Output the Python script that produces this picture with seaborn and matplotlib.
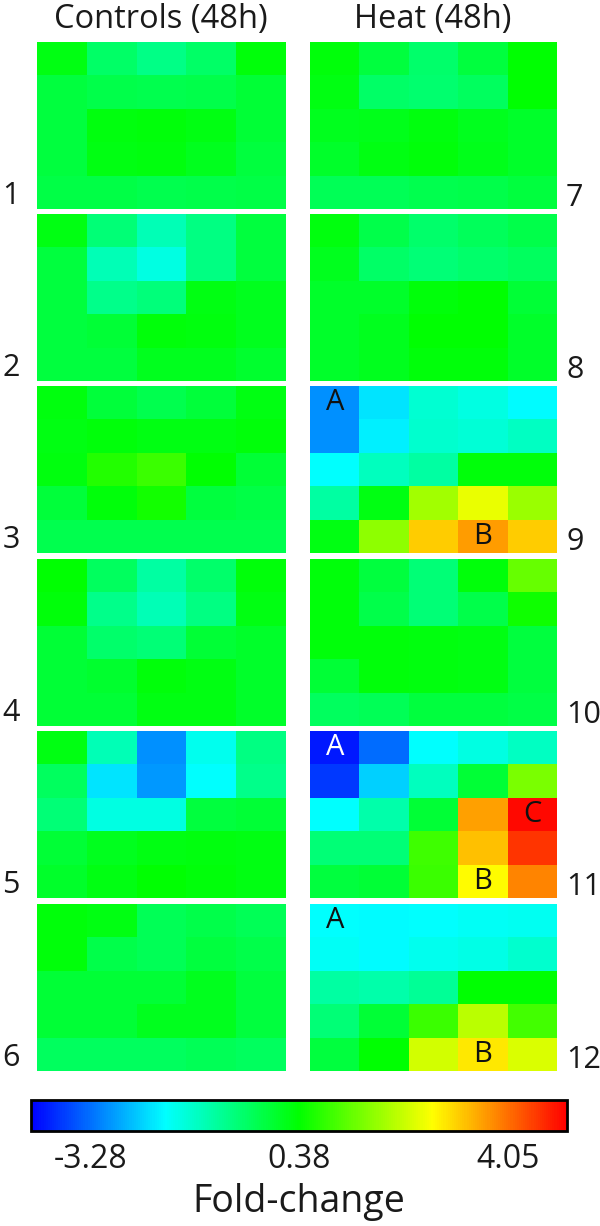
import numpy as np
import pandas as pd
import matplotlib
matplotlib.use("Agg")
import matplotlib.pyplot as plt
import seaborn as sns
from matplotlib.colors import LinearSegmentedColormap

# ---------------- data ----------------
column_titles = ["Controls (48h)", "Heat (48h)"]
panel_labels_left = ["1", "2", "3", "4", "5", "6"]
panel_labels_right = ["7", "8", "9", "10", "11", "12"]

cbar_ticks = [-3.28, 0.38, 4.05]
cbar_ticklabels = ["-3.28", "0.38", "4.05"]
cbar_title = "Fold-change"
vmin, vmax = -4.33, 5.09

ctrl_1 = [[0.20, -0.55, -0.85, -0.55, 0.30],
          [-0.20, -0.30, -0.35, -0.30, -0.10],
          [-0.20, 0.25, 0.30, 0.20, -0.10],
          [-0.20, 0.20, 0.25, 0.10, -0.20],
          [-0.25, -0.25, -0.35, -0.30, -0.25]]
ctrl_2 = [[0.20, -0.70, -1.30, -0.80, -0.20],
          [-0.20, -1.30, -1.70, -0.80, -0.20],
          [-0.20, -0.90, -0.75, 0.20, 0.10],
          [-0.20, -0.10, 0.30, 0.25, 0.10],
          [-0.20, -0.20, 0.10, 0.10, -0.05]]
ctrl_3 = [[0.25, -0.15, -0.35, -0.15, 0.20],
          [0.20, 0.30, 0.20, 0.20, 0.30],
          [0.25, 0.70, 0.90, 0.35, -0.10],
          [-0.15, 0.30, 0.55, -0.20, -0.25],
          [-0.35, -0.35, -0.35, -0.35, -0.35]]
ctrl_4 = [[0.35, -0.50, -1.10, -0.60, 0.30],
          [0.30, -0.90, -1.30, -0.80, 0.20],
          [-0.10, -0.60, -0.70, -0.10, 0.00],
          [-0.10, -0.05, 0.30, 0.20, 0.00],
          [-0.10, -0.10, 0.20, 0.20, 0.00]]
ctrl_5 = [[0.20, -1.30, -3.00, -1.80, -0.80],
          [-0.50, -2.20, -2.90, -1.95, -0.90],
          [-0.70, -1.70, -1.70, -0.20, -0.10],
          [-0.10, 0.10, 0.20, 0.25, 0.20],
          [0.00, 0.20, 0.35, 0.30, 0.20]]
ctrl_6 = [[0.30, 0.20, -0.40, -0.30, -0.40],
          [0.30, -0.30, -0.40, -0.20, -0.30],
          [-0.10, -0.10, -0.10, 0.10, -0.20],
          [-0.10, -0.10, 0.10, 0.10, -0.20],
          [-0.50, -0.50, -0.50, -0.40, -0.50]]

heat_7 = [[0.30, -0.20, -0.60, -0.20, 0.35],
          [0.20, -0.55, -0.65, -0.50, 0.35],
          [0.10, 0.15, 0.25, 0.10, 0.00],
          [0.00, 0.20, 0.30, 0.15, 0.00],
          [-0.40, -0.40, -0.35, -0.30, -0.20]]
heat_8 = [[0.25, -0.30, -0.60, -0.45, -0.30],
          [0.10, -0.55, -0.70, -0.60, -0.50],
          [0.00, 0.00, 0.30, 0.35, -0.10],
          [0.00, 0.10, 0.35, 0.35, 0.00],
          [0.00, 0.10, 0.30, 0.30, 0.00]]
heat_9 = [[-3.00, -2.20, -1.55, -1.70, -2.00],
          [-3.00, -2.10, -1.50, -1.60, -1.40],
          [-1.95, -1.35, -1.10, 0.30, 0.30],
          [-1.10, 0.20, 1.86, 2.52, 1.80],
          [0.20, 1.70, 3.20, 3.65, 3.20]]
heat_10 = [[0.30, -0.20, -0.70, 0.30, 1.30],
           [0.30, -0.30, -0.70, -0.30, 0.50],
           [0.30, 0.30, 0.25, 0.20, -0.20],
           [-0.10, 0.30, 0.25, 0.20, -0.20],
           [-0.50, -0.40, -0.20, -0.20, -0.25]]
heat_11 = [[-4.10, -3.30, -1.95, -1.70, -1.40],
           [-3.80, -2.40, -1.35, -0.10, 1.50],
           [-1.95, -1.20, -0.10, 3.60, 5.00],
           [-0.70, -0.70, 0.95, 3.30, 4.60],
           [-0.20, -0.10, 0.90, 2.75, 3.85]]
heat_12 = [[-1.95, -2.00, -1.95, -1.90, -1.85],
           [-1.90, -2.00, -1.80, -1.75, -1.50],
           [-1.10, -1.20, -1.00, 0.35, 0.35],
           [-0.70, -0.10, 0.90, 2.10, 1.00],
           [-0.20, 0.35, 2.30, 2.95, 2.40]]

left_panels = [ctrl_1, ctrl_2, ctrl_3, ctrl_4, ctrl_5, ctrl_6]
right_panels = [heat_7, heat_8, heat_9, heat_10, heat_11, heat_12]

# cell letters: panel index (1-12), row, col, text
letter_panel = [9, 9, 11, 11, 11, 12, 12]
letter_row = [0, 4, 0, 2, 4, 0, 4]
letter_col = [0, 3, 0, 4, 3, 0, 3]
letter_text = ["A", "B", "A", "C", "B", "A", "B"]

# ---------------- style / layout ----------------
sns.set_theme(style="white")
plt.rcParams['font.family'] = ['Open Sans', 'DejaVu Sans']

W, H = 600, 1226
fig = plt.figure(figsize=(W / 100, H / 100), dpi=100)

cmap = LinearSegmentedColormap.from_list(
    "bcgyr", ["#0000ff", "#00ffff", "#00ff00", "#ffff00", "#ff0000"])


def rect(x0, x1, y0, y1):
    return [x0 / W, 1 - y1 / H, (x1 - x0) / W, (y1 - y0) / H]


tops = [42, 214, 386, 559, 731, 904]
ph = 167
col_x = [(37, 286), (310, 557)]

axes_by_panel = {}
for ci, (panels, labels) in enumerate([(left_panels, panel_labels_left),
                                        (right_panels, panel_labels_right)]):
    x0, x1 = col_x[ci]
    for pi, data in enumerate(panels):
        y0 = tops[pi]
        ax = fig.add_axes(rect(x0, x1, y0, y0 + ph))
        df = pd.DataFrame(np.array(data))
        sns.heatmap(df, ax=ax, cmap=cmap, vmin=vmin, vmax=vmax, cbar=False,
                    xticklabels=False, yticklabels=False, linewidths=0)
        ax.set_xlabel("")
        ax.set_ylabel("")
        for s in ax.spines.values():
            s.set_visible(False)
        panel_no = int(labels[pi])
        axes_by_panel[panel_no] = ax
        # panel number labels
        if ci == 0:
            fig.text(11 / W, 1 - (y0 + ph - 5) / H, labels[pi], ha="center",
                     va="baseline", fontsize=22, color="#1a1a1a")
        else:
            fig.text(566 / W, 1 - (y0 + ph - 3) / H, labels[pi], ha="left",
                     va="baseline", fontsize=22, color="#1a1a1a")

# column titles
fig.text(161 / W, 1 - 28 / H, column_titles[0], ha="center", va="baseline",
         fontsize=23.5, color="#1a1a1a")
fig.text(433 / W, 1 - 28 / H, column_titles[1], ha="center", va="baseline",
         fontsize=23.5, color="#1a1a1a")

# letters in cells
for p, r, c, t in zip(letter_panel, letter_row, letter_col, letter_text):
    ax = axes_by_panel[p]
    val = ax.collections[0].get_array().reshape(5, 5)[r, c]
    color = "white" if val < -3.5 else "#111111"
    ax.text(c + 0.5, r + 0.5, t, ha="center", va="center", fontsize=21,
            color=color)

# colorbar
cax = fig.add_axes(rect(31, 567, 1100, 1131))
mappable = axes_by_panel[1].collections[0]
cb = fig.colorbar(mappable, cax=cax, orientation="horizontal", ticks=cbar_ticks)
cb.set_ticklabels(cbar_ticklabels)
cb.outline.set_linewidth(2)
cb.outline.set_edgecolor("black")
cb.ax.tick_params(length=0, labelsize=23, pad=9, labelcolor="#1a1a1a")
cb.set_label(cbar_title, fontsize=27, labelpad=5, color="#1a1a1a")

fig.savefig("out.png", dpi=100)
